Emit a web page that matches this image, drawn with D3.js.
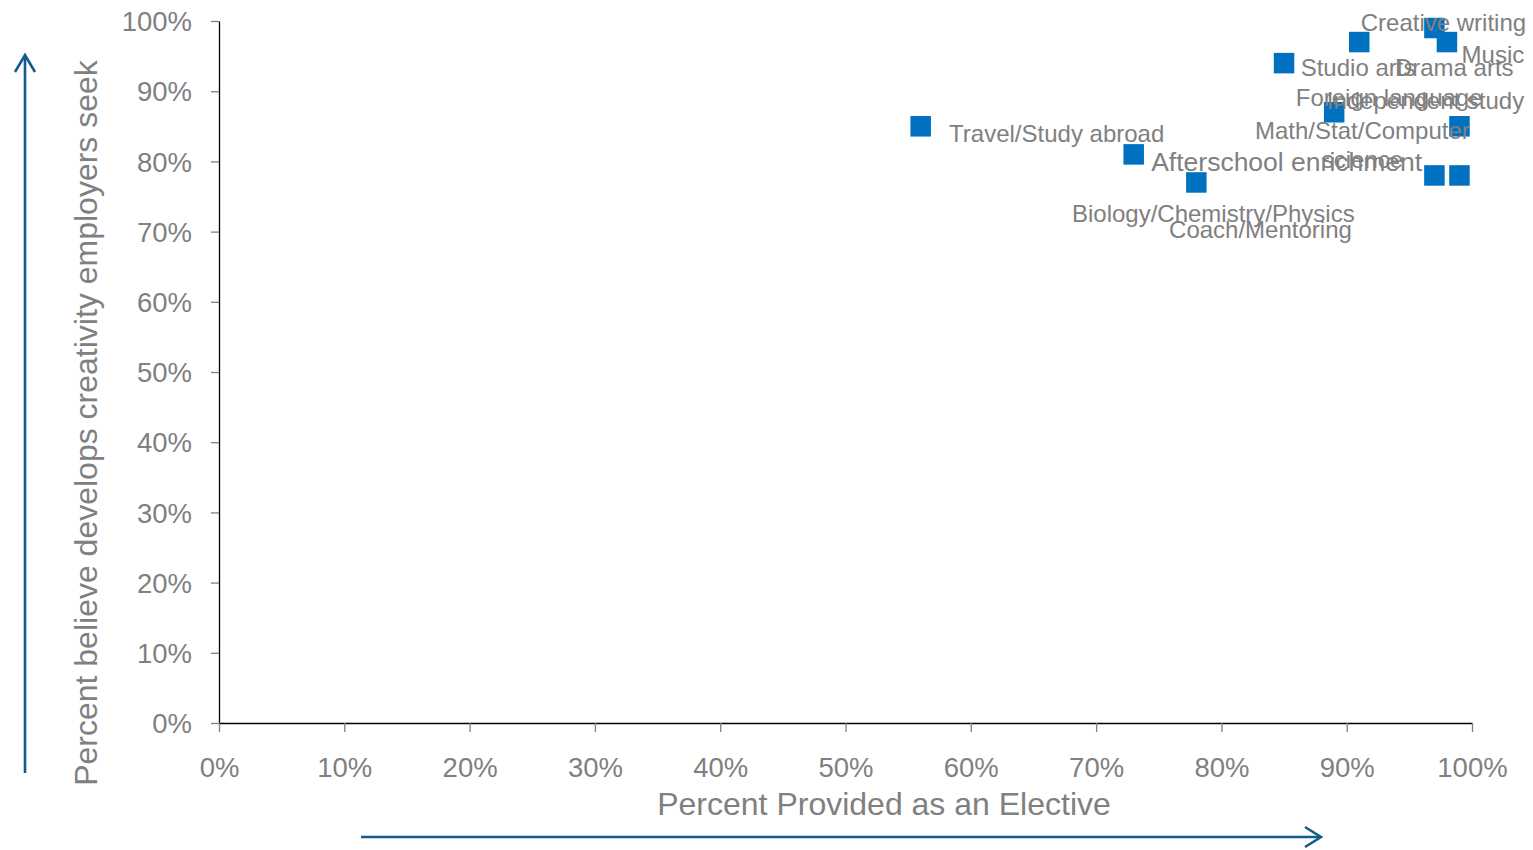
<!DOCTYPE html>
<html>
<head>
<meta charset="utf-8">
<script src="https://cdn.jsdelivr.net/npm/d3@7"></script>
<style>
  html, body { margin: 0; padding: 0; background: #ffffff; }
  svg { display: block; font-family: "Liberation Sans", Arial, sans-serif; }
</style>
</head>
<body>
<svg id="chart" width="1533" height="850"></svg>
<script>
// Subjects and their survey shares (fractions)
const categories = [
  "Travel/Study abroad",
  "Afterschool enrichment",
  "Biology/Chemistry/Physics",
  "Studio arts",
  "Foreign language",
  "Drama arts",
  "Creative writing",
  "Music",
  "Independent study",
  "Math/Stat/Computer science",
  "Coach/Mentoring"
];
const electivePct   = [0.56, 0.73, 0.78, 0.85, 0.89, 0.91, 0.97, 0.98, 0.99, 0.97, 0.99];
const creativityPct = [0.85, 0.81, 0.77, 0.94, 0.87, 0.97, 0.99, 0.97, 0.85, 0.78, 0.78];

const xTicks = [0, 0.1, 0.2, 0.3, 0.4, 0.5, 0.6, 0.7, 0.8, 0.9, 1.0];
const yTicks = [0, 0.1, 0.2, 0.3, 0.4, 0.5, 0.6, 0.7, 0.8, 0.9, 1.0];

const xTitle = "Percent Provided as an Elective";
const yTitle = "Percent believe develops creativity employers seek";

// Label placement (px, relative to marker centre; text is middle-anchored at baseline)
const labelLines = [
  ["Travel/Study abroad"],
  ["Afterschool enrichment"],
  ["Biology/Chemistry/Physics"],
  ["Studio arts"],
  ["Foreign language"],
  ["Drama arts"],
  ["Creative writing"],
  ["Music"],
  ["Independent study"],
  ["Math/Stat/Computer", "science"],
  ["Coach/Mentoring"]
];
const labelDx = [136, 153, 17, 74, 55, 95, 9, 46, -34, -72, -199];
const labelDy = [16, 17, 40, 13, -6, 34, 3, 21, -17, -36, 63];
const labelSize = [24, 26.5, 24, 24, 24, 24, 24, 24, 24, 24, 24];

const points = categories.map((c, i) => ({
  name: c, x: electivePct[i], y: creativityPct[i],
  lines: labelLines[i], dx: labelDx[i], dy: labelDy[i], fs: labelSize[i]
}));

const svg = d3.select("#chart");
const plot = { left: 219, right: 1472, top: 21, bottom: 723 };

const x = d3.scaleLinear().domain([0, 1]).range([plot.left, plot.right]);
const y = d3.scaleLinear().domain([0, 1]).range([plot.bottom, plot.top]);

const gray = "#808080";
const blue = "#0070C0";
const arrowBlue = "#125B8C";

// Y axis
const yAxis = svg.append("g")
  .attr("transform", `translate(${plot.left},0)`)
  .call(d3.axisLeft(y).tickValues(yTicks).tickFormat(d3.format(".0%"))
    .tickSize(8).tickSizeOuter(0).tickPadding(19));
yAxis.select(".domain").attr("stroke", "#000").attr("stroke-width", 1.3);
yAxis.selectAll(".tick line").attr("stroke", gray).attr("stroke-width", 1.3);
yAxis.selectAll(".tick text")
  .attr("fill", gray).attr("font-size", 27.5)
  .attr("font-family", "'Liberation Sans', Arial, sans-serif")
  .attr("dy", "0.35em");

// X axis
const xAxis = svg.append("g")
  .attr("transform", `translate(0,${plot.bottom})`)
  .call(d3.axisBottom(x).tickValues(xTicks).tickFormat(d3.format(".0%"))
    .tickSize(9).tickSizeOuter(0));
xAxis.select(".domain").attr("stroke", "#000").attr("stroke-width", 1.3);
xAxis.selectAll(".tick line").attr("stroke", gray).attr("stroke-width", 1.3);
xAxis.selectAll(".tick text")
  .attr("fill", gray).attr("font-size", 27.5)
  .attr("font-family", "'Liberation Sans', Arial, sans-serif")
  .attr("y", 54).attr("dy", 0);

// Axis titles
svg.append("text")
  .attr("x", 884).attr("y", 815)
  .attr("text-anchor", "middle")
  .attr("fill", gray).attr("font-size", 32)
  .text(xTitle);

svg.append("text")
  .attr("transform", "translate(97,423) rotate(-90)")
  .attr("text-anchor", "middle")
  .attr("fill", gray).attr("font-size", 32)
  .text(yTitle);

// Direction arrows beside the axes
const arrows = svg.append("g")
  .attr("stroke", arrowBlue).attr("stroke-width", 2.6)
  .attr("fill", "none").attr("stroke-linecap", "butt");
arrows.append("line").attr("x1", 25).attr("y1", 773).attr("x2", 25).attr("y2", 56);
arrows.append("path").attr("d", "M15,72 L25,55 L35,72");
arrows.append("line").attr("x1", 361).attr("y1", 837).attr("x2", 1319).attr("y2", 837);
arrows.append("path").attr("d", "M1305,827 L1321,837 L1305,847");

// Markers
const size = 20.5;
svg.append("g").selectAll("rect")
  .data(points)
  .join("rect")
  .attr("x", d => x(d.x) - size / 2)
  .attr("y", d => y(d.y) - size / 2)
  .attr("width", size).attr("height", size)
  .attr("fill", blue);

// Data labels
const labels = svg.append("g").selectAll("text")
  .data(points)
  .join("text")
  .attr("text-anchor", "middle")
  .attr("fill", gray)
  .attr("font-size", d => d.fs)
  .attr("x", d => x(d.x) + d.dx)
  .attr("y", d => y(d.y) + d.dy);
labels.selectAll("tspan")
  .data(d => d.lines.map((t, i) => ({ t, i, d })))
  .join("tspan")
  .attr("x", o => x(o.d.x) + o.d.dx)
  .attr("dy", o => o.i === 0 ? 0 : 29)
  .text(o => o.t);
</script>
</body>
</html>
